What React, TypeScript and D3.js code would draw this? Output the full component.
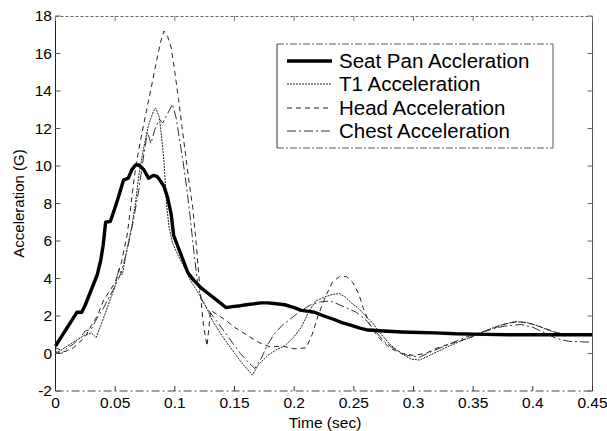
import React from "react";
import * as d3 from "d3";

const xTicks = [0, 0.05, 0.1, 0.15, 0.2, 0.25, 0.3, 0.35, 0.4, 0.45];
const xTickLabels = ["0", "0.05", "0.1", "0.15", "0.2", "0.25", "0.3", "0.35", "0.4", "0.45"];
const yTicks = [-2, 0, 2, 4, 6, 8, 10, 12, 14, 16, 18];

const seriesNames = ["Seat Pan Accleration", "T1 Acceleration", "Head Acceleration", "Chest Acceleration"];

const seatPan: [number, number][] = [
  [0, 0.4], [0.005, 0.9], [0.01, 1.4], [0.015, 1.9], [0.018, 2.2], [0.022, 2.2], [0.025, 2.6], [0.03, 3.4],
  [0.035, 4.2], [0.038, 5.0], [0.04, 5.8], [0.042, 7.0], [0.046, 7.05], [0.05, 7.8], [0.053, 8.4], [0.057, 9.25], [0.061, 9.35],
  [0.064, 9.8], [0.067, 10.05], [0.07, 10.05], [0.074, 9.8], [0.078, 9.35], [0.082, 9.5], [0.085, 9.45],
  [0.088, 9.2], [0.091, 8.9], [0.094, 8.3], [0.097, 7.4], [0.099, 6.3], [0.102, 5.8], [0.105, 5.3], [0.108, 4.8],
  [0.111, 4.3], [0.116, 3.9], [0.122, 3.5], [0.128, 3.2], [0.133, 2.95], [0.138, 2.7], [0.143, 2.45], [0.148, 2.5],
  [0.155, 2.55], [0.16, 2.6], [0.166, 2.65], [0.172, 2.7], [0.178, 2.7], [0.185, 2.65], [0.192, 2.6], [0.2, 2.45],
  [0.206, 2.3], [0.212, 2.25], [0.217, 2.2], [0.225, 2.0], [0.234, 1.8], [0.24, 1.65], [0.248, 1.5], [0.255, 1.35],
  [0.262, 1.25], [0.275, 1.2], [0.29, 1.15], [0.305, 1.12], [0.318, 1.1], [0.335, 1.05], [0.36, 1.02], [0.38, 1.0],
  [0.4, 1.0], [0.42, 1.0], [0.45, 1.0],
];

const t1: [number, number][] = [
  [0, 0.0], [0.005, 0.2], [0.01, 0.4], [0.015, 0.6], [0.02, 0.8], [0.025, 1.0], [0.03, 1.1], [0.034, 0.85],
  [0.038, 1.5], [0.042, 2.2], [0.046, 2.9], [0.05, 3.6], [0.053, 4.5], [0.056, 4.2], [0.06, 5.6], [0.064, 6.8],
  [0.067, 8.0], [0.07, 9.6], [0.074, 11.0], [0.078, 12.2], [0.082, 12.9], [0.084, 13.1], [0.087, 12.6],
  [0.089, 11.5], [0.091, 10.2], [0.093, 8.0], [0.095, 6.8], [0.098, 5.9], [0.103, 5.2], [0.108, 4.6], [0.113, 3.9],
  [0.12, 3.2], [0.126, 2.5], [0.132, 1.7], [0.14, 0.9], [0.148, 0.2], [0.156, -0.5], [0.165, -1.15], [0.17, -0.6],
  [0.178, -0.1], [0.185, 0.2], [0.192, 0.4], [0.2, 0.9], [0.206, 1.4], [0.212, 2.2], [0.218, 2.8], [0.225, 3.0],
  [0.232, 3.15], [0.238, 3.2], [0.243, 3.0], [0.248, 2.7], [0.254, 2.4], [0.26, 2.0], [0.266, 1.6], [0.272, 1.1],
  [0.28, 0.5], [0.29, 0.0], [0.298, -0.3], [0.305, -0.35], [0.312, -0.15], [0.32, 0.1], [0.33, 0.4], [0.345, 0.8],
  [0.36, 1.2], [0.372, 1.5], [0.385, 1.7], [0.395, 1.65], [0.405, 1.45], [0.415, 1.2], [0.425, 1.05], [0.435, 1.0],
  [0.45, 1.0],
];

const head: [number, number][] = [
  [0, 0.3], [0.008, 0.1], [0.015, 0.3], [0.02, 0.6], [0.025, 0.9], [0.03, 1.5], [0.035, 2.0], [0.04, 2.8],
  [0.045, 3.3], [0.05, 3.8], [0.055, 4.8], [0.06, 6.3], [0.063, 7.8], [0.066, 9.4], [0.069, 10.6], [0.072, 11.6],
  [0.076, 12.9], [0.08, 14.1], [0.085, 15.7], [0.088, 16.6], [0.091, 17.2], [0.094, 16.9], [0.097, 16.3],
  [0.1, 15.0], [0.103, 13.6], [0.106, 12.1], [0.109, 10.6], [0.112, 9.1], [0.115, 7.8], [0.118, 5.8], [0.121, 3.5],
  [0.124, 1.5], [0.127, 0.4], [0.13, 2.3], [0.135, 2.1], [0.142, 1.8], [0.15, 1.4], [0.16, 1.0], [0.17, 0.6],
  [0.18, 0.35], [0.19, 0.4], [0.2, 0.25], [0.21, 0.3], [0.215, 1.0], [0.22, 2.0], [0.226, 3.0], [0.232, 3.8],
  [0.238, 4.1], [0.244, 4.1], [0.249, 3.8], [0.254, 3.2], [0.258, 2.4], [0.263, 1.6], [0.27, 0.9], [0.28, 0.3],
  [0.29, 0.0], [0.3, -0.1], [0.31, 0.0], [0.32, 0.3], [0.335, 0.6], [0.35, 0.9], [0.365, 1.3], [0.378, 1.6],
  [0.388, 1.7], [0.398, 1.6], [0.41, 1.35], [0.42, 1.1], [0.43, 1.0], [0.45, 1.0],
];

const chest: [number, number][] = [
  [0, 0.1], [0.005, 0.0], [0.01, 0.3], [0.015, 0.5], [0.02, 0.8], [0.025, 1.2], [0.03, 1.3], [0.035, 1.9],
  [0.04, 2.4], [0.045, 3.0], [0.05, 3.6], [0.055, 4.3], [0.06, 5.5], [0.065, 7.0], [0.07, 8.8], [0.074, 10.6],
  [0.077, 11.8], [0.08, 11.2], [0.083, 11.9], [0.087, 12.5], [0.09, 12.3], [0.094, 12.8], [0.098, 13.3],
  [0.101, 12.6], [0.104, 11.4], [0.107, 10.2], [0.11, 8.8], [0.113, 7.2], [0.116, 5.4], [0.119, 3.8], [0.122, 2.9],
  [0.127, 2.4], [0.133, 1.9], [0.14, 1.3], [0.148, 0.6], [0.155, 0.0], [0.162, -0.5], [0.167, -0.8], [0.172, -0.3],
  [0.178, 0.5], [0.184, 1.1], [0.19, 1.5], [0.198, 1.9], [0.206, 2.3], [0.214, 2.6], [0.222, 2.75], [0.23, 2.8],
  [0.238, 2.6], [0.245, 2.4], [0.252, 2.2], [0.26, 1.8], [0.268, 1.2], [0.276, 0.6], [0.285, 0.2], [0.295, -0.1],
  [0.305, -0.2], [0.315, 0.1], [0.33, 0.5], [0.345, 0.9], [0.36, 1.2], [0.375, 1.45], [0.39, 1.55], [0.4, 1.4],
  [0.41, 1.1], [0.42, 0.8], [0.43, 0.65], [0.45, 0.6],
];

const FONT = "'Liberation Sans', Arial, Helvetica, sans-serif";

export default function App() {
  const W = 607, H = 431;
  const left = 55.5, right = 592.5, top = 16, bottom = 391;
  const x = d3.scaleLinear().domain([0, 0.45]).range([left, right]);
  const y = d3.scaleLinear().domain([-2, 18]).range([bottom, top]);
  const line = d3.line<[number, number]>().x((d) => x(d[0])).y((d) => y(d[1])).curve(d3.curveLinear);

  const styles = [
    { data: seatPan, width: 3.4, dash: undefined as string | undefined, color: "#000" },
    { data: t1, width: 1, dash: "2,1", color: "#222" },
    { data: head, width: 1, dash: "5,4", color: "#222" },
    { data: chest, width: 1, dash: "9,3,2,3", color: "#333" },
  ];

  const legX0 = 287, legX1 = 332, legText = 339;
  const legY = [61, 84, 108, 131];

  return (
    <svg width={W} height={H} style={{ position: "absolute", left: 0, top: 0, background: "#fff" }} fontFamily={FONT}>
      <rect x={0} y={0} width={W} height={H} fill="#fff" />
      {styles.slice(1).map((s, i) => (
        <path key={i} d={line(s.data) || ""} fill="none" stroke={s.color} strokeWidth={s.width} strokeDasharray={s.dash} />
      ))}
      <path d={line(seatPan) || ""} fill="none" stroke="#000" strokeWidth={3.4} strokeLinejoin="round" />

      <line x1={left} x2={left} y1={top} y2={bottom} stroke="#222" strokeWidth={1} />
      <line x1={right} x2={right} y1={top} y2={bottom} stroke="#555" strokeWidth={1} />
      <line x1={left} x2={right} y1={top + 0.5} y2={top + 0.5} stroke="#666" strokeWidth={1} strokeDasharray="3,2" />
      <line x1={left} x2={right} y1={bottom} y2={bottom} stroke="#444" strokeWidth={1} strokeDasharray="8,3,2,3" />

      {xTicks.map((t, i) => (
        <g key={"x" + i}>
          <line x1={x(t)} x2={x(t)} y1={bottom} y2={bottom - 5} stroke="#333" />
          <line x1={x(t)} x2={x(t)} y1={top} y2={top + 5} stroke="#777" />
          <text x={x(t)} y={408} fontSize={15.5} textAnchor="middle" fill="#000">{xTickLabels[i]}</text>
        </g>
      ))}
      {yTicks.map((v, i) => (
        <g key={"y" + i}>
          <line x1={left} x2={left + 5} y1={y(v)} y2={y(v)} stroke="#555" />
          <line x1={right} x2={right - 5} y1={y(v)} y2={y(v)} stroke="#666" />
          <text x={52} y={y(v)} dy="0.35em" fontSize={15.5} textAnchor="end" fill="#000">{String(v)}</text>
        </g>
      ))}

      <text x={325} y={428} fontSize={15.5} textAnchor="middle" fill="#000">Time (sec)</text>
      <text transform={`translate(24,${(top + bottom) / 2}) rotate(-90)`} fontSize={15} textAnchor="middle" fill="#000">Acceleration (G)</text>

      <rect x={277} y={44} width={276} height={104} fill="#fff" stroke="none" />
      <line x1={277} x2={553} y1={44} y2={44} stroke="#555" strokeDasharray="7,2,2,2" />
      <line x1={277} x2={553} y1={148} y2={148} stroke="#555" strokeDasharray="7,2,2,2" />
      <line x1={277} x2={277} y1={44} y2={148} stroke="#333" />
      <line x1={553} x2={553} y1={44} y2={148} stroke="#555" />
      {styles.map((s, i) => (
        <g key={"l" + i}>
          <line x1={legX0} x2={legX1} y1={legY[i]} y2={legY[i]} stroke={s.color} strokeWidth={s.width} strokeDasharray={s.dash} />
          <text x={legText} y={legY[i]} dy="0.35em" fontSize={20.5} fill="#000">{seriesNames[i]}</text>
        </g>
      ))}
    </svg>
  );
}
